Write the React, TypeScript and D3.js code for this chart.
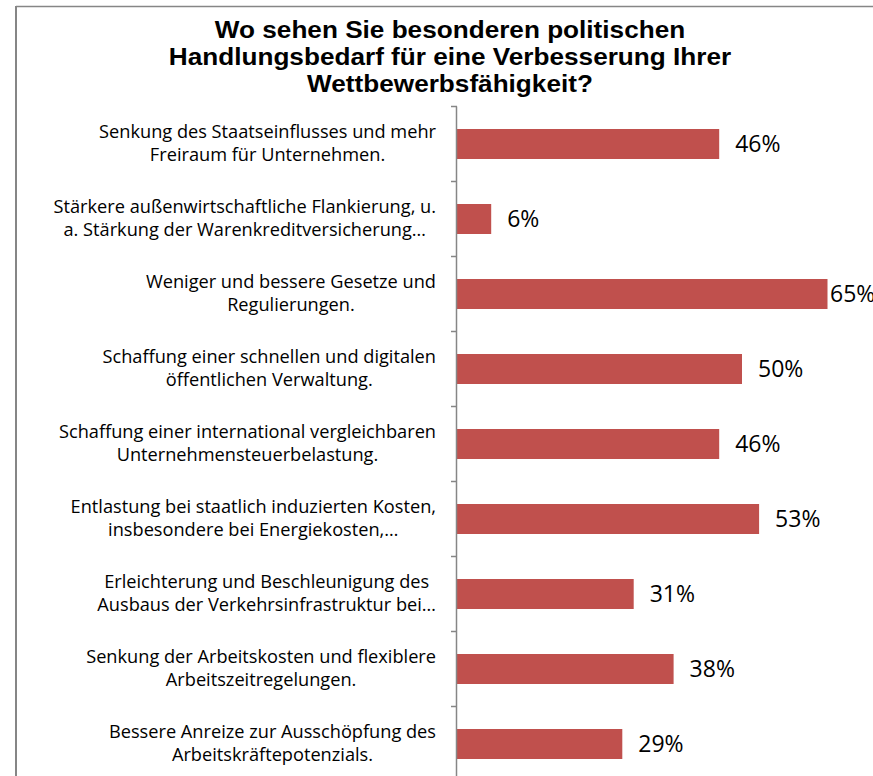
import React, { useEffect, useRef } from "react";
import * as d3 from "d3";

const titleLines = [
  "Wo sehen Sie besonderen politischen",
  "Handlungsbedarf für eine Verbesserung Ihrer",
  "Wettbewerbsfähigkeit?",
];

const categories = [
  ["Senkung des Staatseinflusses und mehr", "Freiraum für Unternehmen."],
  ["Stärkere außenwirtschaftliche Flankierung, u.", "a. Stärkung der Warenkreditversicherung…"],
  ["Weniger und bessere Gesetze und", "Regulierungen."],
  ["Schaffung einer schnellen und digitalen", "öffentlichen Verwaltung."],
  ["Schaffung einer international vergleichbaren", "Unternehmensteuerbelastung."],
  ["Entlastung bei staatlich induzierten Kosten,", "insbesondere bei Energiekosten,…"],
  ["Erleichterung und Beschleunigung des", "Ausbaus der Verkehrsinfrastruktur bei…"],
  ["Senkung der Arbeitskosten und flexiblere", "Arbeitszeitregelungen."],
  ["Bessere Anreize zur Ausschöpfung des", "Arbeitskräftepotenzials."],
];

const values = [0.46, 0.06, 0.65, 0.5, 0.46, 0.53, 0.31, 0.38, 0.29];

const W = 873;
const H = 776;
const BAR_COLOR = "#C0504D";
const AXIS_COLOR = "#868686";

export default function App() {
  const ref = useRef<SVGSVGElement>(null);

  useEffect(() => {
    const svg = d3.select(ref.current);
    svg.selectAll("*").remove();

    // frame
    svg.append("line").attr("x1", 16).attr("x2", W).attr("y1", 6.5).attr("y2", 6.5)
      .attr("stroke", AXIS_COLOR).attr("stroke-width", 1.5);
    svg.append("line").attr("x1", 16).attr("x2", 16).attr("y1", 6).attr("y2", H)
      .attr("stroke", AXIS_COLOR).attr("stroke-width", 2);

    // title
    const title = svg.append("g").attr("transform", "translate(450,0) scale(1.09,1)");
    titleLines.forEach((t, i) => {
      title.append("text")
        .attr("x", 0).attr("y", 38 + i * 27)
        .attr("text-anchor", "middle")
        .attr("font-family", "'Liberation Sans', Arial, sans-serif")
        .attr("font-weight", "bold")
        .attr("font-size", 24)
        .attr("fill", "#000")
        .text(t);
    });

    const idx = categories.map((_, i) => String(i));
    const y = d3.scaleBand<string>().domain(idx).range([106.5, 781.5])
      .paddingInner(0.6).paddingOuter(0.3);
    const x = d3.scaleLinear().domain([0, 0.7]).range([457, 856]);

    // bars
    svg.append("g").selectAll("rect").data(values).join("rect")
      .attr("x", x(0))
      .attr("y", (_, i) => y(String(i))!)
      .attr("width", (d) => x(d) - x(0))
      .attr("height", y.bandwidth())
      .attr("fill", BAR_COLOR);

    // axis
    const step = y.step();
    const ax = svg.append("g");
    ax.append("line").attr("x1", 456.5).attr("x2", 456.5).attr("y1", 106.5).attr("y2", H)
      .attr("stroke", AXIS_COLOR).attr("stroke-width", 1.5);
    const tickYs = d3.range(categories.length + 1).map((i) => 106.5 + i * step);
    ax.selectAll("line.tick").data(tickYs).join("line").attr("class", "tick")
      .attr("x1", 451).attr("x2", 457).attr("y1", (d) => d).attr("y2", (d) => d)
      .attr("stroke", AXIS_COLOR).attr("stroke-width", 1.5);

    // category labels
    const labelRight = 436;
    categories.forEach((lines, i) => {
      const cy = y(String(i))! + y.bandwidth() / 2;
      const g = svg.append("g");
      const texts = lines.map((l, j) =>
        g.append("text")
          .attr("y", cy - 6 + j * 23)
          .attr("text-anchor", "middle")
          .attr("font-family", "'Open Sans', sans-serif")
          .attr("font-size", 18.2)
          .attr("fill", "#000")
          .text(l)
      );
      const maxW = d3.max(texts, (t) => (t.node() as SVGTextElement).getComputedTextLength()) || 0;
      texts.forEach((t) => t.attr("x", labelRight - maxW / 2));
    });

    // value labels
    svg.append("g").selectAll("text").data(values).join("text")
      .attr("x", (d) => Math.min(x(d) + 16, 830))
      .attr("y", (_, i) => y(String(i))! + y.bandwidth() / 2 + 8)
      .attr("font-family", "'Open Sans', sans-serif")
      .attr("font-size", 23)
      .attr("fill", "#000")
      .text((d) => `${Math.round(d * 100)}%`);
  }, []);

  return (
    <svg
      ref={ref}
      width={W}
      height={H}
      style={{ position: "absolute", left: 0, top: 0, background: "#fff" }}
    />
  );
}
